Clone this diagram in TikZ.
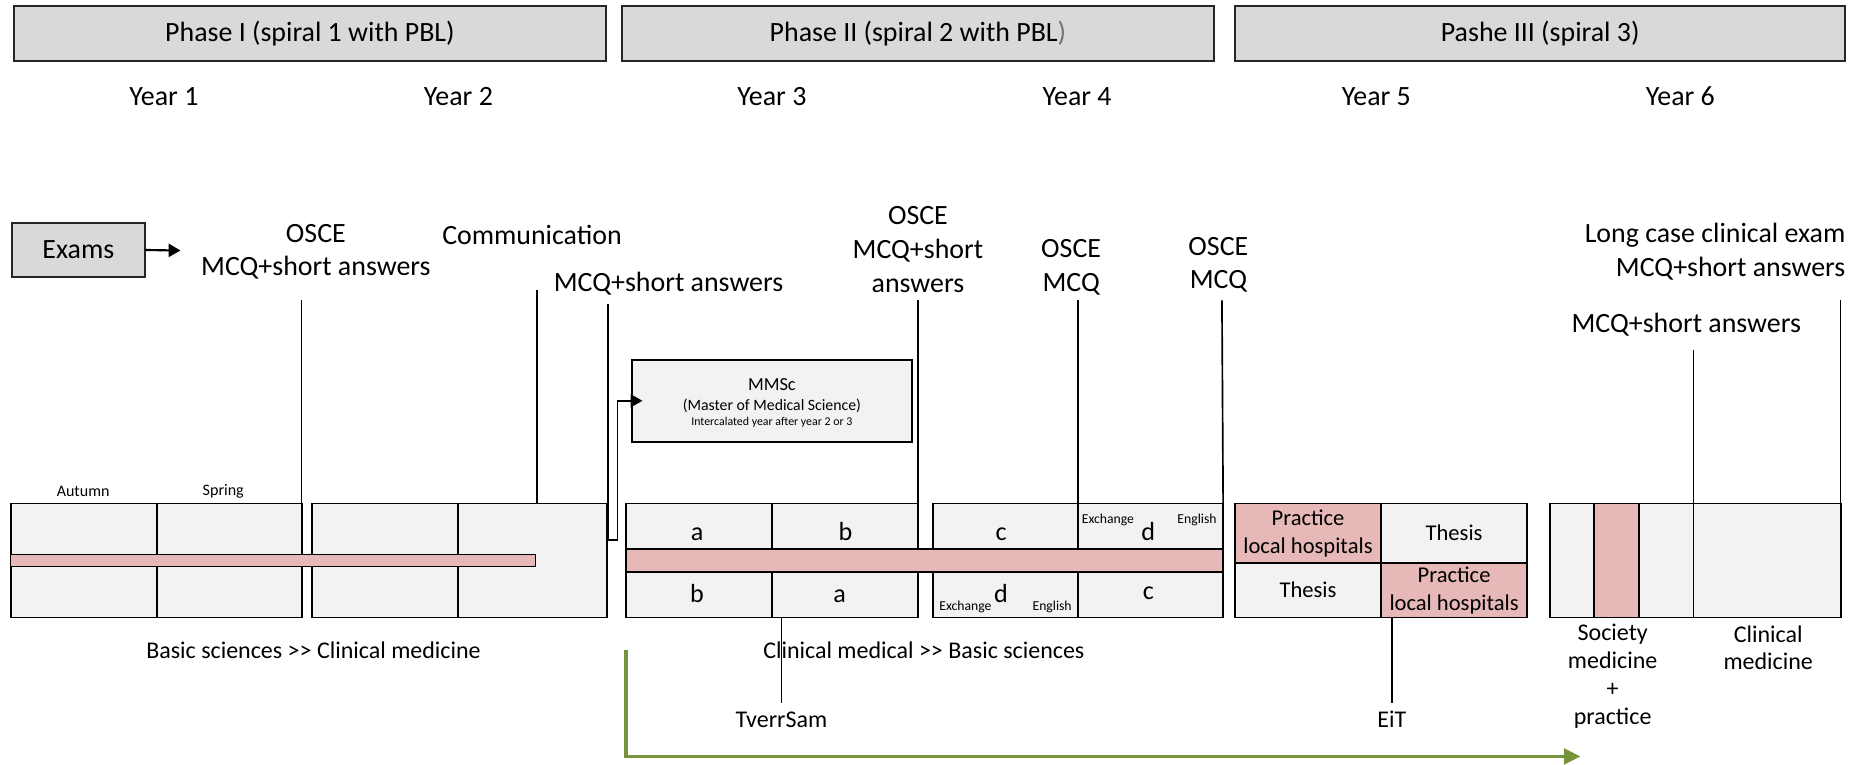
\documentclass[tikz,border=0pt]{standalone}
\usepackage{fontspec}
\setmainfont{Carlito}
\usetikzlibrary{arrows.meta}
\definecolor{phasegray}{HTML}{D9D9D9}
\definecolor{cellgray}{HTML}{F2F2F2}
\definecolor{pinkc}{HTML}{E6B8B7}
\definecolor{olivec}{HTML}{77933C}
\newcommand{\fL}{\fontsize{23.5}{28.5}\selectfont}
\newcommand{\fM}{\fontsize{19}{23.5}\selectfont}
\newcommand{\fB}{\fontsize{20.2}{23.5}\selectfont}
\newcommand{\fC}{\fontsize{22}{26}\selectfont}
\newcommand{\fMM}{\fontsize{15.5}{19}\selectfont}
\newcommand{\fS}{\fontsize{13.3}{14}\selectfont}
\newcommand{\fXS}{\fontsize{10}{12}\selectfont}
\newcommand{\fT}{\fontsize{11.5}{13}\selectfont}
\newcommand{\fA}{\fontsize{13.5}{16}\selectfont}
\tikzset{
  phasebox/.style={draw=black!85, line width=1.6pt, fill=phasegray, inner sep=0pt, outer sep=0pt, font=\fL},
  cell/.style={draw=black, line width=1.5pt, fill=cellgray, inner sep=0pt, outer sep=0pt},
  pinkcell/.style={cell, fill=pinkc},
  lbl/.style={inner sep=0pt, outer sep=0pt, align=center},
  blbl/.style={inner sep=0pt, outer sep=0pt, anchor=base},
  conn/.style={draw=black, line width=1.4pt},
  greenarrow/.style={draw=olivec, line width=3pt, -{Triangle[length=14pt,width=13pt]}},
  tip/.style={-{Triangle[length=10pt,width=11pt]}}
}
\begin{document}
\begin{tikzpicture}[x=1pt,y=-1pt]
\useasboundingbox (0,0) rectangle (1568,644);
% phase boxes
\node[phasebox, minimum width=498pt, minimum height=46pt] (p1) at (261,28) {Phase I (spiral 1 with PBL)};
\node[phasebox, minimum width=498pt, minimum height=46pt] (p2) at (773,28) {Phase II (spiral 2 with PBL{\color{black!55})}};
\node[phasebox, minimum width=514pt, minimum height=46pt] (p3) at (1297,28) {Pashe III (spiral 3)};
% years
\node[lbl, font=\fL] (yr1) at (138,81) {Year 1};
\node[lbl, font=\fL] (yr2) at (386,81) {Year 2};
\node[lbl, font=\fL] (yr3) at (650,81) {Year 3};
\node[lbl, font=\fL] (yr4) at (907,81) {Year 4};
\node[lbl, font=\fL] (yr5) at (1159,81) {Year 5};
\node[lbl, font=\fL] (yr6) at (1415,81) {Year 6};
% exams
\node[phasebox, minimum width=112pt, minimum height=45pt] (exams) at (66,210.5) {Exams};
\coordinate (examtip) at (152,211);
\draw[conn, line width=1.8pt, tip] (exams.east) -- (examtip);
% year 1 & 2
\node[cell, minimum width=123pt, minimum height=96pt] (y1a) at (70.5,472) {};
\node[cell, minimum width=122pt, minimum height=96pt] (y1b) at (193,472) {};
\node[cell, minimum width=123pt, minimum height=96pt] (y2a) at (324.5,472) {};
\node[cell, minimum width=125pt, minimum height=96pt] (y2b) at (448.5,472) {};
\node[pinkcell, line width=1.2pt, minimum width=442pt, minimum height=10pt] (pb1) at (230,472) {};
\node[lbl, font=\fA] (autumn) at (70,414) {Autumn};
\node[lbl, font=\fA] (spring) at (188,414) {Spring};
% year 3 & 4
\node[cell, minimum width=123pt, minimum height=38pt] (a3t) at (588.5,443) {};
\node[cell, minimum width=123pt, minimum height=38pt] (b3t) at (711.5,443) {};
\node[cell, minimum width=123pt, minimum height=38pt] (b3b) at (588.5,501) {};
\node[cell, minimum width=123pt, minimum height=38pt] (a3b) at (711.5,501) {};
\node[cell, minimum width=122pt, minimum height=38pt] (c4t) at (847,443) {};
\node[cell, minimum width=122pt, minimum height=38pt] (d4t) at (969,443) {};
\node[cell, minimum width=122pt, minimum height=38pt] (d4b) at (847,501) {};
\node[cell, minimum width=122pt, minimum height=38pt] (c4b) at (969,501) {};
\node[pinkcell, minimum width=503pt, minimum height=20pt] (pb2) at (778.5,472) {};
\node[blbl, font=\fC] (ta1) at (587,455.5) {a};
\node[blbl, font=\fC] (tb1) at (712,455.5) {b};
\node[blbl, font=\fC] (tb2) at (587,507.5) {b};
\node[blbl, font=\fC] (ta2) at (707,507) {a};
\node[blbl, font=\fC] (tc1) at (843,455.5) {c};
\node[blbl, font=\fC] (td1) at (967,455.5) {d};
\node[blbl, font=\fC] (td2) at (843,507) {d};
\node[blbl, font=\fC] (tc2) at (967,505) {c};
\node[blbl, font=\fT] (ex1) at (933,440.5) {Exchange};
\node[blbl, font=\fT] (en1) at (1008,440.5) {English};
\node[blbl, font=\fT] (ex2) at (813,514.5) {Exchange};
\node[blbl, font=\fT] (en2) at (886,514.5) {English};
% year 5
\node[pinkcell, minimum width=123pt, minimum height=50pt, font=\fM, align=center] (pl5a) at (1101.5,449) {Practice\\local hospitals};
\node[cell, minimum width=123pt, minimum height=50pt, font=\fM] (th5a) at (1224.5,449) {Thesis};
\node[cell, minimum width=123pt, minimum height=46pt, font=\fM] (th5b) at (1101.5,497) {Thesis};
\node[pinkcell, minimum width=123pt, minimum height=46pt, font=\fM, align=center] (pl5b) at (1224.5,497) {Practice\\local hospitals};
% year 6
\node[cell, minimum width=37pt, minimum height=96pt] (y6a) at (1323.5,472) {};
\node[pinkcell, minimum width=38pt, minimum height=96pt] (y6b) at (1361,472) {};
\node[cell, minimum width=46pt, minimum height=96pt] (y6c) at (1403,472) {};
\node[cell, minimum width=124pt, minimum height=96pt] (y6d) at (1488,472) {};
% MMSc
\node[cell, line width=1.3pt, minimum width=236pt, minimum height=69pt] (mmsc) at (650,337.5) {};
\node[blbl, font=\fMM] (mm1) at (650,328.5) {MMSc};
\node[blbl, font=\fS] (mm2) at (650,346) {(Master of Medical Science)};
\node[blbl, font=\fXS] (mm3) at (650,358.5) {Intercalated year after year 2 or 3};
% exam labels
\node[lbl, font=\fL] (l1) at (266,212) {OSCE\\MCQ+short answers};
\node[lbl, font=\fL] (l2) at (448,198) {Communication};
\node[lbl, font=\fL] (l3) at (563,239) {MCQ+short answers};
\node[lbl, font=\fL] (l4) at (773,210) {OSCE\\MCQ+short\\answers};
\node[lbl, font=\fL] (l5) at (902,225) {OSCE\\MCQ};
\node[lbl, font=\fL] (l6) at (1026,223) {OSCE\\MCQ};
\node[lbl, font=\fL, align=right, anchor=east] (l7) at (1554,212) {Long case clinical exam\\MCQ+short answers};
\node[lbl, font=\fL] (l8) at (1420,273) {MCQ+short answers};
% bottom labels
\node[lbl, font=\fB] (bs1) at (264,548) {Basic sciences >{}> Clinical medicine};
\node[lbl, font=\fB] (bs2) at (778,548) {Clinical medical >{}> Basic sciences};
\node[lbl, font=\fB] (tverr) at (658,606) {TverrSam};
\node[lbl, font=\fB] (eit) at (1172,606) {EiT};
\node[lbl, font=\fB] (soc) at (1358,569.5) {Society\\medicine\\+\\practice};
\node[lbl, font=\fB] (clin) at (1489,545.5) {Clinical\\medicine};
% exam lines
\coordinate (e1) at (254,253);
\coordinate (e2) at (452,244);
\coordinate (e3) at (512,256);
\coordinate (e4) at (773,253);
\coordinate (e5) at (908,253);
\coordinate (e6) at (1029,253);
\coordinate (e7) at (1426,295);
\coordinate (e8) at (1550,253);
\draw[conn] (e1) -- (y1b.north east);
\draw[conn] (e2) -- (e2 |- y2b.north);
\draw[conn, tip] (e3) -- (512,455) -- (520,455) -- (520,337.5) -- ([xshift=9pt]mmsc.west);
\draw[conn] (e4) -- (b3t.north east);
\draw[conn] (e5) -- (c4t.north east);
\draw[conn] (e6) -- (d4t.north east);
\draw[conn] (e7) -- (y6d.north west);
\draw[conn] (e8) -- (y6d.north east);
% lines below
\coordinate (tv) at (658,592);
\coordinate (ei) at (1172,592);
\draw[conn] (tv |- a3b.south) -- (tv);
\draw[conn] (ei |- pl5b.south) -- (ei);
% green arrow
\coordinate (g1) at (527,547);
\coordinate (g2) at (1331,637);
\draw[greenarrow] (g1) |- (g2);
\end{tikzpicture}
\end{document}
